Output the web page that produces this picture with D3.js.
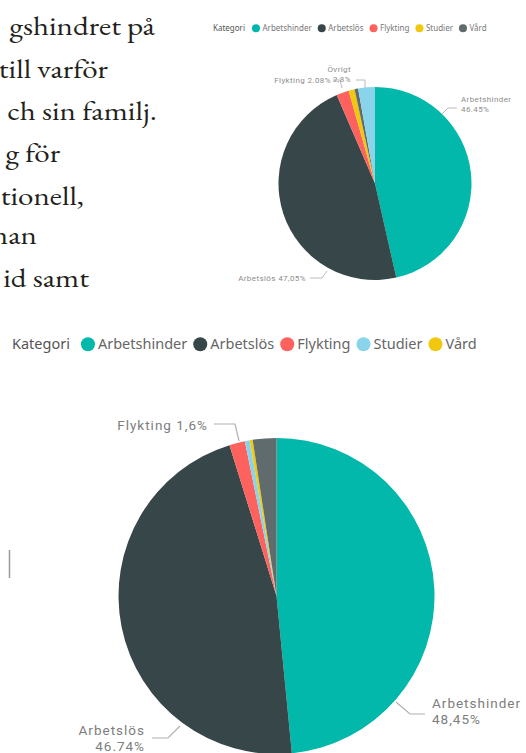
<!DOCTYPE html>
<html>
<head>
<meta charset="utf-8">
<script src="https://cdn.jsdelivr.net/npm/d3@7"></script>
<style>
  body { margin: 0; background: #fff; }
  svg { display: block; }
</style>
</head>
<body>
<div id="chart"></div>
<script>
// page size
const W = 526, H = 753;

// data
const legendTitle = "Kategori";
const legendTop = ["Arbetshinder", "Arbetslös", "Flykting", "Studier", "Vård"];
const legendBottom = ["Arbetshinder", "Arbetslös", "Flykting", "Studier", "Vård"];
const sliceNamesTop = ["Arbetshinder", "Arbetslös", "Flykting", "Studier", "Vård", "Övrigt"];
const sliceValuesTop = [46.45, 47.05, 2.08, 1.0, 0.6, 2.8];
const sliceNamesBottom = ["Arbetshinder", "Arbetslös", "Flykting", "Studier", "Vård", "Övrigt"];
const sliceValuesBottom = [48.45, 46.74, 1.6, 0.5, 0.3, 2.41];
const bodyLines = ["gshindret på", "till varför", "ch sin familj.", "g för", "tionell,", "nan", "id samt"];

// colours (Power BI default theme)
const colorTop = d3.scaleOrdinal()
  .domain(["Arbetshinder", "Arbetslös", "Flykting", "Studier", "Vård", "Övrigt"])
  .range(["#01B8AA", "#374649", "#FD625E", "#F2C80F", "#5F6B6D", "#8AD4EB"]);
const colorBottom = d3.scaleOrdinal()
  .domain(["Arbetshinder", "Arbetslös", "Flykting", "Studier", "Vård", "Övrigt"])
  .range(["#01B8AA", "#374649", "#FD625E", "#8AD4EB", "#F2C80F", "#5F6B6D"]);

const svg = d3.select("#chart").append("svg")
  .attr("width", W)
  .attr("height", H);

// cropped body text on the left (serif, page scan)
const bodyRightEdge = [155, 108, 157, 60, 84, 37, 89];
const bodyBaseline = [35, 78, 120, 162, 205, 244, 287];
const sx = 1.15;
svg.append("g")
  .attr("transform", `scale(${sx},1)`)
  .selectAll("text")
  .data(bodyLines)
  .join("text")
    .attr("x", (d, i) => bodyRightEdge[i] / sx)
    .attr("y", (d, i) => bodyBaseline[i])
    .attr("text-anchor", "end")
    .attr("font-family", "'EB Garamond', 'Liberation Serif', 'DejaVu Serif', serif")
    .attr("font-size", 27)
    .attr("fill", "#231f20")
    .text(d => d);

// small grey bar at the left
svg.append("line")
  .attr("x1", 9.5).attr("x2", 9.5)
  .attr("y1", 550).attr("y2", 578)
  .attr("stroke", "#9a9a9a").attr("stroke-width", 1.5);

// legend helper: chains title, dots and names using measured widths
function drawLegend(g, items, color, opt) {
  const title = g.append("text")
    .attr("x", opt.x).attr("y", opt.y)
    .attr("font-family", "'Segoe UI', 'Noto Sans', sans-serif")
    .attr("font-size", opt.size)
    .attr("fill", opt.titleColor)
    .text(legendTitle);
  let cx = opt.x + title.node().getComputedTextLength() + opt.titleGap + opt.r;
  items.forEach(name => {
    g.append("circle")
      .attr("cx", cx).attr("cy", opt.y - opt.size * 0.33)
      .attr("r", opt.r)
      .attr("fill", color(name));
    const t = g.append("text")
      .attr("x", cx + opt.r + opt.textGap).attr("y", opt.y)
      .attr("font-family", "'Segoe UI', 'Noto Sans', sans-serif")
      .attr("font-size", opt.size)
      .attr("fill", opt.textColor)
      .text(name);
    cx = cx + opt.r + opt.textGap + t.node().getComputedTextLength() + opt.itemGap + opt.r;
  });
}

// pie helper
function drawPie(g, names, values, color, cx, cy, r) {
  const pie = d3.pie().sort(null).value(d => d.value);
  const arc = d3.arc().innerRadius(0).outerRadius(r);
  const data = names.map((n, i) => ({name: n, value: values[i]}));
  g.attr("transform", `translate(${cx},${cy})`)
    .selectAll("path")
    .data(pie(data))
    .join("path")
      .attr("d", arc)
      .attr("fill", d => color(d.data.name));
}

// label helper: text lines plus a leader polyline
function drawLabels(g, labels, opt) {
  labels.forEach(l => {
    g.append("path")
      .attr("d", d3.line()(l.leader))
      .attr("fill", "none")
      .attr("stroke", opt.lineColor)
      .attr("stroke-width", opt.lineWidth);
    l.lines.forEach((s, i) => {
      g.append("text")
        .attr("x", l.x)
        .attr("y", l.y + i * opt.lineHeight)
        .attr("text-anchor", l.anchor)
        .attr("font-family", "Roboto, 'DejaVu Sans', sans-serif")
        .attr("font-size", opt.size)
        .attr("letter-spacing", opt.spacing)
        .attr("fill", opt.textColor)
        .text(s);
    });
  });
}

// ---------- top chart ----------
drawLegend(svg.append("g"), legendTop, colorTop, {
  x: 213, y: 31, size: 8, r: 4, titleGap: 7, textGap: 2.5, itemGap: 6,
  titleColor: "#555", textColor: "#777"
});
drawPie(svg.append("g"), sliceNamesTop, sliceValuesTop, colorTop, 375, 183.5, 96.5);
drawLabels(svg.append("g"), [
  {lines: ["Arbetshinder", "46.45%"], x: 461, y: 102, anchor: "start",
   leader: [[442, 114], [448, 108], [457, 108]]},
  {lines: ["Arbetslös 47,05%"], x: 306, y: 281, anchor: "end",
   leader: [[310, 278], [322, 278], [327, 271]]},
  {lines: ["Flykting 2.08%"], x: 331, y: 83, anchor: "end",
   leader: [[333, 80], [340, 80], [342, 88]]},
  {lines: ["Övrigt", "2,8%"], x: 351, y: 72, anchor: "end",
   leader: [[356, 80], [365, 80], [365, 88]]}
], {size: 8, spacing: 0.4, lineHeight: 10, textColor: "#8c8c8c", lineColor: "#aaa", lineWidth: 0.8});

// ---------- bottom chart ----------
drawLegend(svg.append("g"), legendBottom, colorBottom, {
  x: 12, y: 349, size: 14.5, r: 7, titleGap: 11, textGap: 3, itemGap: 6,
  titleColor: "#555", textColor: "#666"
});
drawPie(svg.append("g"), sliceNamesBottom, sliceValuesBottom, colorBottom, 276.5, 596, 158);
drawLabels(svg.append("g"), [
  {lines: ["Arbetshinder", "48,45%"], x: 432, y: 708, anchor: "start",
   leader: [[396, 702], [410, 714], [425, 714]]},
  {lines: ["Arbetslös", "46.74%"], x: 145, y: 735, anchor: "end",
   leader: [[152, 738], [168, 738], [180, 726]]},
  {lines: ["Flykting 1,6%"], x: 208, y: 430, anchor: "end",
   leader: [[214, 424], [235, 424], [239, 441]]}
], {size: 13.5, spacing: 1.0, lineHeight: 16, textColor: "#7d7d7d", lineColor: "#b0b0b0", lineWidth: 1.2});
</script>
</body>
</html>
